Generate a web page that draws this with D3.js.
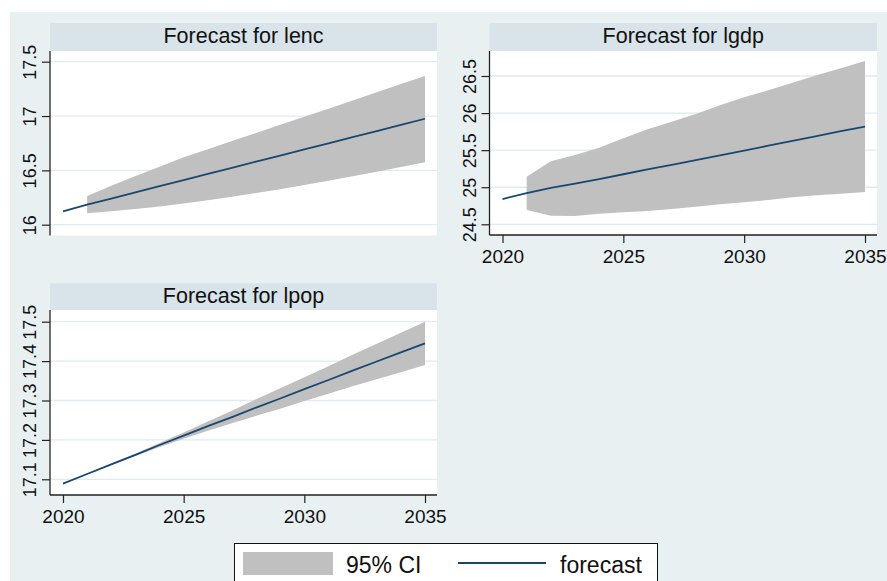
<!DOCTYPE html>
<html>
<head>
<meta charset="utf-8">
<script src="https://cdn.jsdelivr.net/npm/d3@7"></script>
<style>
  html, body { margin: 0; padding: 0; background: #fff; }
  svg { display: block; font-family: "Liberation Sans", Arial, sans-serif; }
</style>
</head>
<body>
<svg id="chart" width="887" height="581"></svg>
<script>
// Forecast horizon
const years   = [2020, 2021, 2022, 2023, 2024, 2025, 2026, 2027, 2028, 2029, 2030, 2031, 2032, 2033, 2034, 2035];
const ciYears = [2021, 2022, 2023, 2024, 2025, 2026, 2027, 2028, 2029, 2030, 2031, 2032, 2033, 2034, 2035];

// lenc
const lencForecast = [16.123, 16.185, 16.241, 16.298, 16.354, 16.411, 16.467, 16.523, 16.580, 16.636, 16.693, 16.749, 16.805, 16.862, 16.918, 16.975];
const lencUpper    = [16.264, 16.359, 16.448, 16.534, 16.620, 16.694, 16.770, 16.844, 16.920, 16.994, 17.067, 17.144, 17.218, 17.294, 17.368];
const lencLower    = [16.105, 16.123, 16.144, 16.168, 16.195, 16.225, 16.257, 16.291, 16.327, 16.365, 16.405, 16.446, 16.488, 16.531, 16.574];

// lgdp
const lgdpForecast = [24.841, 24.921, 24.990, 25.050, 25.110, 25.175, 25.240, 25.300, 25.365, 25.430, 25.495, 25.560, 25.625, 25.690, 25.755, 25.816];
const lgdpUpper    = [25.142, 25.350, 25.435, 25.533, 25.660, 25.781, 25.884, 25.988, 26.104, 26.212, 26.307, 26.410, 26.509, 26.604, 26.702];
const lgdpLower    = [24.693, 24.616, 24.612, 24.643, 24.662, 24.679, 24.706, 24.737, 24.770, 24.797, 24.828, 24.864, 24.891, 24.913, 24.936];

// lpop
const lpopForecast = [17.089, 17.1135, 17.138, 17.162, 17.187, 17.211, 17.235, 17.258, 17.282, 17.305, 17.329, 17.352, 17.376, 17.399, 17.422, 17.445];
const lpopUpper    = [17.115, 17.140, 17.165, 17.192, 17.219, 17.247, 17.274, 17.303, 17.331, 17.359, 17.387, 17.416, 17.444, 17.472, 17.500];
const lpopLower    = [17.112, 17.136, 17.159, 17.182, 17.203, 17.223, 17.242, 17.261, 17.279, 17.299, 17.317, 17.336, 17.354, 17.372, 17.390];

// Axis ticks
const yearTicks = [2020, 2025, 2030, 2035];
const lencTicks = [16, 16.5, 17, 17.5];
const lgdpTicks = [24.5, 25, 25.5, 26, 26.5];
const lpopTicks = [17.1, 17.2, 17.3, 17.4, 17.5];

const legendLabels = ["95% CI", "forecast"];

// Styling
const COL_BG = "#e9f0f2";
const COL_HEAD = "#d8e4ea";
const COL_GRID = "#e1eaee";
const COL_CI = "#c0c0c0";
const COL_LINE = "#1a476f";
const FONT = "'Liberation Sans', Arial, sans-serif";

const svg = d3.select("#chart");

// Graph region background
svg.append("rect")
  .attr("x", 10).attr("y", 12)
  .attr("width", 877).attr("height", 569)
  .attr("fill", COL_BG);

const panels = [
  { title: "Forecast for lenc", forecast: lencForecast, lower: lencLower, upper: lencUpper, ticks: lencTicks,
    left: 50, right: 437, headTop: 23, top: 51, bottom: 235.5, yRange: [224.7, 61.7], showX: false },
  { title: "Forecast for lgdp", forecast: lgdpForecast, lower: lgdpLower, upper: lgdpUpper, ticks: lgdpTicks,
    left: 489.5, right: 877, headTop: 23, top: 51, bottom: 235, yRange: [224.3, 76], showX: true },
  { title: "Forecast for lpop", forecast: lpopForecast, lower: lpopLower, upper: lpopUpper, ticks: lpopTicks,
    left: 50, right: 437, headTop: 283.3, top: 310, bottom: 495, yRange: [479.3, 321.7], showX: true }
];

panels.forEach(p => {
  const g = svg.append("g");

  const x = d3.scaleLinear().domain([years[0], years[years.length - 1]]).range([p.left + 13, p.right - 12]);
  const y = d3.scaleLinear().domain([p.ticks[0], p.ticks[p.ticks.length - 1]]).range(p.yRange);

  // subtitle band
  g.append("rect")
    .attr("x", p.left).attr("y", p.headTop)
    .attr("width", p.right - p.left).attr("height", p.top - p.headTop)
    .attr("fill", COL_HEAD);
  g.append("text")
    .attr("x", (p.left + p.right) / 2).attr("y", p.headTop + 19.5)
    .attr("text-anchor", "middle")
    .attr("font-family", FONT).attr("font-size", 21.5)
    .attr("fill", "#111")
    .text(p.title);

  // plot region
  g.append("rect")
    .attr("x", p.left).attr("y", p.top)
    .attr("width", p.right - p.left).attr("height", p.bottom - p.top)
    .attr("fill", "#fff");

  // gridlines
  g.append("g").selectAll("line").data(p.ticks).join("line")
    .attr("x1", p.left).attr("x2", p.right)
    .attr("y1", d => y(d)).attr("y2", d => y(d))
    .attr("stroke", COL_GRID).attr("stroke-width", 1.3);

  // confidence band
  const band = ciYears.map((yr, i) => ({ yr, lo: p.lower[i], hi: p.upper[i] }));
  g.append("path")
    .datum(band)
    .attr("d", d3.area().x(d => x(d.yr)).y0(d => y(d.lo)).y1(d => y(d.hi)))
    .attr("fill", COL_CI);

  // forecast line
  const pts = years.map((yr, i) => ({ yr, v: p.forecast[i] }));
  g.append("path")
    .datum(pts)
    .attr("d", d3.line().x(d => x(d.yr)).y(d => y(d.v)))
    .attr("fill", "none")
    .attr("stroke", COL_LINE)
    .attr("stroke-width", 1.8);

  // y axis
  const ya = g.append("g")
    .attr("transform", `translate(${p.left},0)`)
    .call(d3.axisLeft(y).tickValues(p.ticks).tickSize(8).tickFormat(d3.format("~g")));
  ya.select(".domain").remove();
  ya.selectAll(".tick line").attr("stroke", "#222").attr("stroke-width", 1.2);
  ya.selectAll(".tick text")
    .attr("transform", "rotate(-90)")
    .attr("x", 0).attr("y", -14).attr("dy", 0)
    .attr("text-anchor", "middle")
    .attr("font-family", FONT).attr("font-size", 18)
    .attr("fill", "#111");
  g.append("line")
    .attr("x1", p.left).attr("x2", p.left)
    .attr("y1", p.top).attr("y2", p.bottom)
    .attr("stroke", "#222").attr("stroke-width", 1.3);

  // x axis
  if (p.showX) {
    const xa = g.append("g")
      .attr("transform", `translate(0,${p.bottom})`)
      .call(d3.axisBottom(x).tickValues(yearTicks).tickSize(8).tickFormat(d3.format("d")));
    xa.select(".domain").remove();
    xa.selectAll(".tick line").attr("stroke", "#222").attr("stroke-width", 1.2);
    xa.selectAll(".tick text")
      .attr("y", 28).attr("dy", 0)
      .attr("font-family", FONT).attr("font-size", 19)
      .attr("fill", "#111");
    g.append("line")
      .attr("x1", p.left).attr("x2", p.right)
      .attr("y1", p.bottom).attr("y2", p.bottom)
      .attr("stroke", "#222").attr("stroke-width", 1.3);
  }
});

// Legend
const lg = svg.append("g");
lg.append("rect")
  .attr("x", 234.5).attr("y", 543.5)
  .attr("width", 423).attr("height", 50)
  .attr("fill", "#fff").attr("stroke", "#111").attr("stroke-width", 1);
lg.append("rect")
  .attr("x", 243).attr("y", 552)
  .attr("width", 90).attr("height", 23)
  .attr("fill", COL_CI);
lg.append("text")
  .attr("x", 346).attr("y", 572.5)
  .attr("font-family", FONT).attr("font-size", 23).attr("fill", "#111")
  .text(legendLabels[0]);
lg.append("line")
  .attr("x1", 458).attr("x2", 546)
  .attr("y1", 563).attr("y2", 563)
  .attr("stroke", COL_LINE).attr("stroke-width", 2);
lg.append("text")
  .attr("x", 560).attr("y", 572.5)
  .attr("font-family", FONT).attr("font-size", 23).attr("fill", "#111")
  .text(legendLabels[1]);
</script>
</body>
</html>
